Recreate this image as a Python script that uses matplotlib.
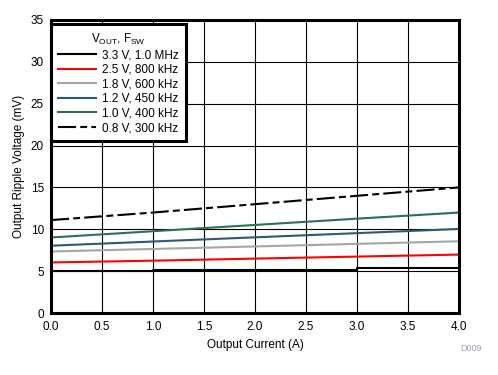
import matplotlib
matplotlib.use("Agg")
import matplotlib.pyplot as plt
import numpy as np

plt.rcParams['font.family'] = ['Liberation Sans', 'DejaVu Sans']
plt.rcParams['lines.scale_dashes'] = False

current = [0.0, 1.0, 2.0, 3.0, 4.0]
v33 = [5.02, 5.1, 5.18, 5.35, 5.35]
v25 = [6.04, 6.25, 6.5, 6.74, 6.98]
v18 = [7.35, 7.65, 7.95, 8.26, 8.57]
v12 = [8.04, 8.54, 9.04, 9.54, 10.04]
v10 = [9.02, 9.77, 10.52, 11.27, 12.0]
v08 = [11.1, 12.0, 13.0, 14.0, 15.0]

labels = ["3.3 V, 1.0 MHz", "2.5 V, 800 kHz", "1.8 V, 600 kHz",
          "1.2 V, 450 kHz", "1.0 V, 400 kHz", "0.8 V, 300 kHz"]
colors = ["#000000", "#FF0000", "#A6A6A6", "#2E5A74", "#2E7050", "#000000"]

xticks = np.arange(0, 4.01, 0.5)
yticks = np.arange(0, 36, 5)

fs = 8.5
fig = plt.figure(figsize=(4.98, 3.75), dpi=100)
ax = fig.add_axes([0.1024, 0.1653, 0.8193, 0.7814])

lw = 1.5
ax.plot(current, v33, color=colors[0], lw=lw, drawstyle='steps-post', label=labels[0])
ax.plot(current, v25, color=colors[1], lw=lw, label=labels[1])
ax.plot(current, v18, color=colors[2], lw=lw, label=labels[2])
ax.plot(current, v12, color=colors[3], lw=lw, label=labels[3])
ax.plot(current, v10, color=colors[4], lw=lw, label=labels[4])
ax.plot(current, v08, color=colors[5], lw=lw, dashes=(13, 3, 5, 3), label=labels[5])

ax.set_xlim(0, 4)
ax.set_ylim(0, 35)
ax.set_xticks(xticks)
ax.set_yticks(yticks)
ax.set_xticklabels([f"{t:.1f}" for t in xticks], fontsize=fs)
ax.set_yticklabels([f"{int(t)}" for t in yticks], fontsize=fs)
ax.tick_params(axis='x', length=0, pad=6)
ax.tick_params(axis='y', length=0, pad=5)
ax.grid(True, color='black', lw=0.8)
ax.set_axisbelow(True)
for s in ax.spines.values():
    s.set_linewidth(2.2)
ax.set_xlabel("Output Current (A)", fontsize=fs, labelpad=4)
ax.set_ylabel("Output Ripple Voltage (mV)", fontsize=fs, labelpad=4)

leg = ax.legend(loc='upper left', bbox_to_anchor=(0.0, 0.985),
                title=r"V$_{\mathregular{OUT}}$, F$_{\mathregular{SW}}$",
                fontsize=fs, title_fontsize=fs, frameon=True, fancybox=False,
                edgecolor='black', framealpha=1, handlelength=3.2, handletextpad=0.5,
                labelspacing=0.22, borderpad=0.6, borderaxespad=0.0)
leg.get_frame().set_linewidth(2.2)

fig.text(0.968, 0.065, "D009", fontsize=6.5, color='#9AA3BF', ha='right')

fig.savefig("out.png", dpi=100)
